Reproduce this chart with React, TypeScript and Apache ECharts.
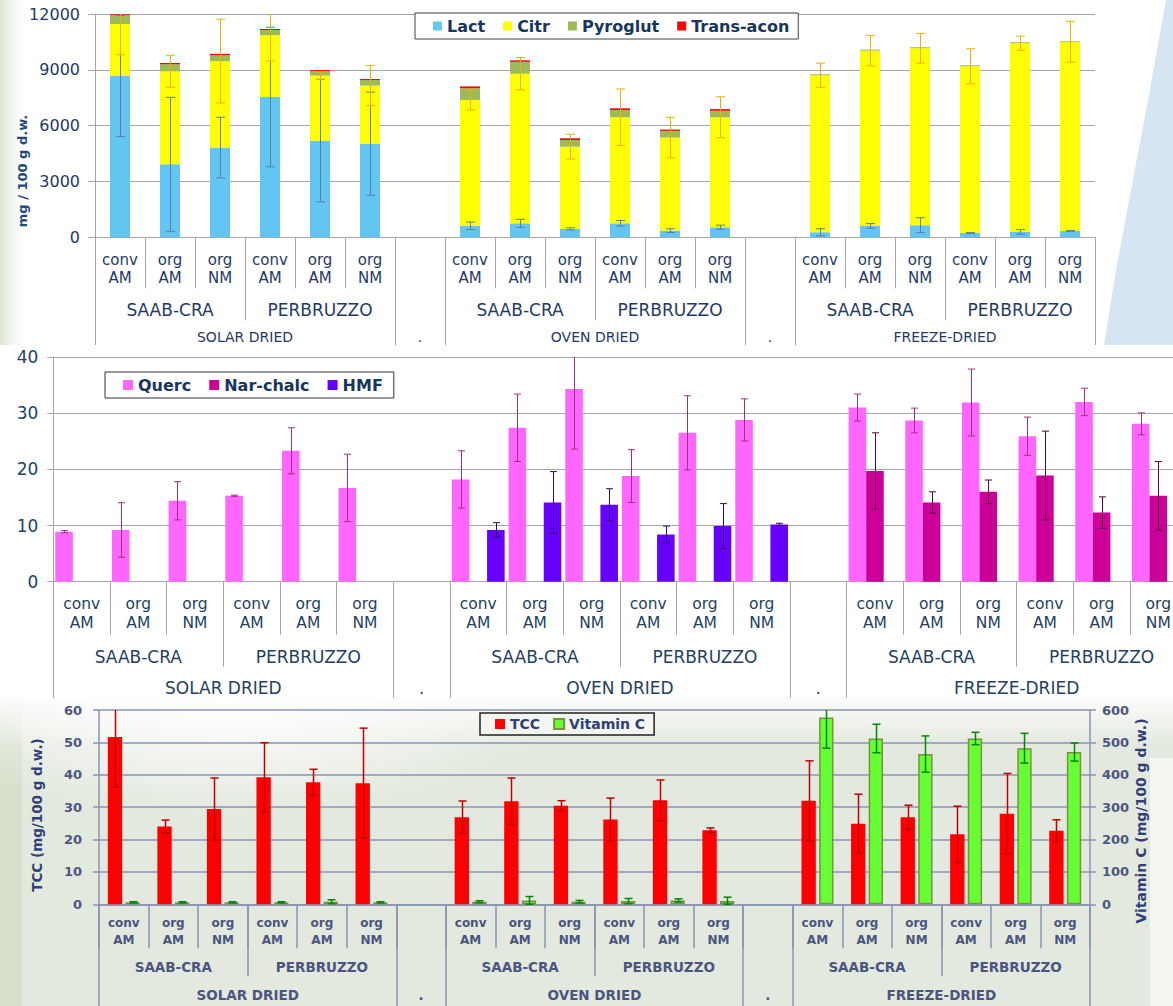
import React, { useEffect, useRef } from "react";
import * as echarts from "echarts";

// ---------- shared categories ----------
const treatments = ["conv\nAM", "org\nAM", "org\nNM", "conv\nAM", "org\nAM", "org\nNM"];
const varieties = ["SAAB-CRA", "PERBRUZZO"];
const methods = ["SOLAR DRIED", "OVEN DRIED", "FREEZE-DRIED"];
const gapLabel = ".";

// ---------- panel 1: organic acids (mg / 100 g d.w.); order: solar x6, oven x6, freeze x6 ----------
const acidAxis = { min: 0, max: 12000, interval: 3000 };
const lact = [8670, 3920, 4820, 7540, 5190, 5030, 620, 750, 450, 750, 360, 540, 270, 610, 650, 230, 290, 340];
const citr = [2790, 5000, 4650, 3320, 3500, 3120, 6760, 8040, 4420, 5700, 5000, 5910, 8440, 9420, 9510, 8960, 10140, 10170];
const pyroglut = [470, 380, 310, 280, 250, 300, 630, 640, 360, 390, 360, 350, 55, 55, 55, 55, 55, 40];
const transAcon = [50, 70, 80, 55, 50, 55, 100, 80, 90, 90, 70, 90, 0, 0, 0, 0, 0, 0];
const lactErr = [3260, 3600, 1630, 3750, 3290, 2770, 200, 215, 60, 150, 100, 110, 190, 125, 400, 30, 125, 20];
const citrErr = [1650, 860, 2250, 1380, 200, 1075, 540, 870, 670, 1520, 1090, 1100, 650, 820, 800, 940, 380, 1100];

// ---------- panel 2: phenolics / HMF ----------
const phenAxis = { min: 0, max: 40, interval: 10 };
const querc = [8.9, 9.2, 14.4, 15.3, 23.3, 16.7, 18.2, 27.4, 34.3, 18.8, 26.5, 28.8, 31.0, 28.7, 31.9, 25.9, 32.0, 28.1];
const quercErr = [0.2, 4.85, 3.4, 0.1, 4.1, 6.0, 5.1, 6.0, 10.7, 4.7, 6.6, 3.75, 2.4, 2.2, 5.95, 3.4, 2.45, 1.95];
const narChalc = [null, null, null, null, null, null, null, null, null, null, null, null, 19.7, 14.1, 16.0, 18.9, 12.3, 15.3];
const narChalcErr = [null, null, null, null, null, null, null, null, null, null, null, null, 6.8, 1.9, 2.1, 7.9, 2.8, 6.1];
const hmf = [null, null, null, null, null, null, 9.2, 14.1, 13.7, 8.4, 9.9, 10.2, null, null, null, null, null, null];
const hmfErr = [null, null, null, null, null, null, 1.3, 5.5, 2.85, 1.5, 4.0, 0.2, null, null, null, null, null, null];

// ---------- panel 3: TCC (left axis) and vitamin C (right axis) ----------
const tccAxis = { min: 0, max: 60, interval: 10 };
const vitCAxis = { min: 0, max: 600, interval: 100 };
const tcc = [51.7, 24.0, 29.4, 39.2, 37.7, 37.4, 26.9, 31.8, 30.4, 26.2, 32.1, 22.9, 32.0, 24.9, 26.9, 21.6, 28.0, 22.7];
const tccErr = [15.5, 2.0, 9.6, 10.7, 4.0, 17.0, 5.0, 7.2, 1.6, 6.6, 6.3, 0.7, 12.3, 9.1, 3.7, 8.7, 12.4, 3.4];
const vitC = [6, 6, 6, 6, 8, 6, 8, 12, 8, 10, 12, 10, 577, 512, 464, 512, 482, 470];
const vitCErr = [2, 2, 2, 2, 6, 2, 3, 12, 4, 8, 5, 12, 95, 44, 56, 19, 46, 28];

const FONT = "DejaVu Sans";

const level1 = [...treatments, "", ...treatments, "", ...treatments];
const slotOf = (i: number) => i + Math.floor(i / 6);
const toSlots = (arr: (number | null)[]) => {
  const out: (number | string)[] = [];
  arr.forEach((v, i) => {
    if (i > 0 && i % 6 === 0) out.push("-");
    out.push(v == null ? "-" : v);
  });
  return out;
};

function barOffset(w: number, n: number, k: number, catGap: number, gap: number) {
  const bw = (w * (1 - catGap)) / (n + (n - 1) * gap);
  const total = n * bw + (n - 1) * gap * bw;
  return -total / 2 + k * bw * (1 + gap) + bw / 2;
}

type ErrOpts = { color: string; width: number; cap: number; max: number; offset: (w: number) => number; yAxisIndex?: number };
function errSeries(name: string, centers: (number | null)[], errs: (number | null)[], o: ErrOpts) {
  const data: number[][] = [];
  centers.forEach((c, i) => {
    const e = errs[i];
    if (c != null && e != null) data.push([slotOf(i), c, e]);
  });
  return {
    type: "custom",
    name,
    xAxisIndex: 0,
    yAxisIndex: o.yAxisIndex ?? 0,
    z: 10,
    silent: true,
    encode: { x: 0, y: 1 },
    data,
    renderItem: (_p: any, api: any) => {
      const x = api.value(0);
      const c = api.value(1);
      const e = api.value(2);
      const w = api.size([1, 0])[0];
      const px = Math.round(api.coord([x, c])[0] + o.offset(w)) + 0.5;
      const hiV = Math.min(c + e, o.max);
      const loV = Math.max(c - e, 0);
      const yHi = api.coord([x, hiV])[1];
      const yLo = api.coord([x, loV])[1];
      const st = { stroke: o.color, lineWidth: o.width };
      const h = o.cap / 2;
      const children: any[] = [{ type: "line", shape: { x1: px, y1: yHi, x2: px, y2: yLo }, style: st }];
      if (c + e <= o.max) children.push({ type: "line", shape: { x1: px - h, y1: yHi, x2: px + h, y2: yHi }, style: st });
      children.push({ type: "line", shape: { x1: px - h, y1: yLo, x2: px + h, y2: yLo }, style: st });
      return { type: "group", children };
    },
  };
}

type AxisCfg = {
  line: string; lineWidth: number; len: number[]; margin: number[]; size: number[]; lh: number[];
  color: string; weight: string;
};
function levelAxes(c: AxisCfg) {
  const pts = 41;
  const ids = Array.from({ length: pts }, (_, k) => "p" + k);
  const l2: string[] = new Array(pts).fill("");
  const l3: string[] = new Array(pts).fill("");
  const t2 = new Set<number>();
  const t3 = new Set<number>([pts - 1]);
  methods.forEach((m, g) => {
    const base = g * 7;
    varieties.forEach((v, j) => {
      l2[2 * (base + j * 3 + 1) + 1] = v;
    });
    t2.add(2 * (base + 3));
    l3[2 * (base + 3)] = m;
    t3.add(2 * base);
    if (g < methods.length - 1) {
      l3[2 * (base + 6) + 1] = gapLabel;
      t3.add(2 * (base + 6));
    }
  });
  const ls = { color: c.line, width: c.lineWidth };
  const txt = { color: c.color, fontFamily: FONT, fontWeight: c.weight };
  return [
    {
      type: "category", data: level1, boundaryGap: true, position: "bottom",
      axisLine: { show: true, lineStyle: ls },
      axisTick: { show: true, interval: 0, length: c.len[0], lineStyle: ls },
      axisLabel: { ...txt, interval: 0, margin: c.margin[0], fontSize: c.size[0], lineHeight: c.lh[0] },
      splitLine: { show: false },
    },
    {
      type: "category", data: ids, boundaryGap: false, position: "bottom",
      axisLine: { show: false },
      axisTick: { show: true, interval: (i: number) => t2.has(i), length: c.len[1], lineStyle: ls },
      axisLabel: {
        ...txt, interval: (i: number) => l2[i] !== "", formatter: (_v: string, i: number) => l2[i],
        margin: c.margin[1], fontSize: c.size[1], lineHeight: c.lh[1],
      },
      splitLine: { show: false },
    },
    {
      type: "category", data: ids, boundaryGap: false, position: "bottom",
      axisLine: { show: false },
      axisTick: { show: true, interval: (i: number) => t3.has(i), length: c.len[2], lineStyle: ls },
      axisLabel: {
        ...txt, interval: (i: number) => l3[i] !== "", formatter: (_v: string, i: number) => l3[i],
        margin: c.margin[2], fontSize: c.size[2], lineHeight: c.lh[2],
      },
      splitLine: { show: false },
    },
  ];
}

const plainNum = (v: number) => String(v);

// ---------- options ----------
function topOption() {
  const citrTop = lact.map((v, i) => v + citr[i]);
  const gray = "#A6A6A6";
  return {
    animation: false,
    backgroundColor: "#ffffff",
    textStyle: { fontFamily: FONT },
    grid: { left: 95, top: 14, width: 1000, height: 223.3, outerBoundsMode: "none", containLabel: false },
    legend: {
      left: 415, top: 13, icon: "rect", itemWidth: 9, itemHeight: 9, itemGap: 18,
      padding: [5, 9, 5, 18], borderColor: "#404040", borderWidth: 1, backgroundColor: "#ffffff",
      selectedMode: false,
      data: ["Lact", "Citr", "Pyroglut", "Trans-acon"],
      textStyle: { fontFamily: FONT, fontWeight: "bold", fontSize: 16, color: "#17365D" },
    },
    xAxis: levelAxes({
      line: gray, lineWidth: 1, len: [51, 83, 130], margin: [14, 63, 93], size: [15, 17, 14], lh: [18, 20, 14],
      color: "#1F3A64", weight: "normal",
    }),
    yAxis: {
      type: "value", ...acidAxis,
      axisLine: { show: true, lineStyle: { color: gray } },
      axisTick: { show: true, length: 7, lineStyle: { color: gray } },
      axisLabel: { fontFamily: FONT, fontSize: 16, color: "#1F3A64", margin: 15, formatter: plainNum },
      splitLine: { lineStyle: { color: gray } },
    },
    graphic: [
      {
        type: "rect", z: -10, silent: true, shape: { x: 0, y: 0, width: 30, height: 345 },
        style: { fill: new echarts.graphic.LinearGradient(0, 0, 1, 0, [
          { offset: 0, color: "#D9E6CE" }, { offset: 1, color: "rgba(255,255,255,0)" }]) },
      },
      {
        type: "polygon", z: -10, silent: true,
        shape: { points: [[1166, 0], [1173, 0], [1173, 345], [1104, 345], [1116, 270], [1131, 190], [1148, 100]] },
        style: { fill: "#D5E5F1" },
      },
      {
        type: "text", x: 22, y: 171, rotation: Math.PI / 2, silent: true,
        style: { text: "mg / 100 g d.w.", fontFamily: FONT, fontWeight: "bold", fontSize: 13, fill: "#1F497D", align: "center", verticalAlign: "middle" },
      },
    ],
    series: [
      { type: "bar", name: "Lact", stack: "acids", barWidth: "40%", data: toSlots(lact), itemStyle: { color: "#62C5F2" } },
      { type: "bar", name: "Citr", stack: "acids", barWidth: "40%", data: toSlots(citr), itemStyle: { color: "#FFFF00" } },
      { type: "bar", name: "Pyroglut", stack: "acids", barWidth: "40%", data: toSlots(pyroglut), itemStyle: { color: "#9BBB59" } },
      { type: "bar", name: "Trans-acon", stack: "acids", barWidth: "40%", data: toSlots(transAcon), itemStyle: { color: "#FF0000" } },
      errSeries("Lact error", lact, lactErr, { color: "#5B7FA6", width: 1, cap: 9, max: acidAxis.max, offset: () => 0 }),
      errSeries("Citr error", citrTop, citrErr, { color: "#F0B000", width: 1, cap: 9, max: acidAxis.max, offset: () => 0 }),
    ],
  };
}

function midOption() {
  const gray = "#A6A6A6";
  const cg = 0.07;
  const bar = { type: "bar", barGap: "0%", barCategoryGap: "7%" };
  return {
    animation: false,
    backgroundColor: "#ffffff",
    textStyle: { fontFamily: FONT },
    grid: { left: 53.3, top: 12, width: 1133.3, height: 224.7, outerBoundsMode: "none", containLabel: false },
    legend: {
      left: 105, top: 27, icon: "rect", itemWidth: 10, itemHeight: 10, itemGap: 18,
      padding: [5, 11, 5, 18], borderColor: "#303030", borderWidth: 1, backgroundColor: "#ffffff",
      selectedMode: false,
      data: ["Querc", "Nar-chalc", "HMF"],
      textStyle: { fontFamily: FONT, fontWeight: "bold", fontSize: 16, color: "#17365D" },
    },
    xAxis: levelAxes({
      line: gray, lineWidth: 1, len: [53, 85, 130], margin: [13, 65, 96.5], size: [15.5, 17, 17], lh: [19, 20, 20],
      color: "#243F60", weight: "normal",
    }),
    yAxis: {
      type: "value", ...phenAxis,
      axisLine: { show: true, lineStyle: { color: gray } },
      axisTick: { show: true, length: 6, lineStyle: { color: gray } },
      axisLabel: { fontFamily: FONT, fontSize: 17, color: "#243F60", margin: 15, formatter: plainNum },
      splitLine: { lineStyle: { color: gray } },
    },
    series: [
      { ...bar, name: "Querc", data: toSlots(querc), itemStyle: { color: "#FF66FF" } },
      { ...bar, name: "Nar-chalc", data: toSlots(narChalc), itemStyle: { color: "#CC0099" } },
      { ...bar, name: "HMF", data: toSlots(hmf), itemStyle: { color: "#6600FF" } },
      errSeries("Querc error", querc, quercErr, { color: "#A0307F", width: 1, cap: 7, max: phenAxis.max, offset: (w) => barOffset(w, 3, 0, cg, 0) }),
      errSeries("Nar-chalc error", narChalc, narChalcErr, { color: "#5E0040", width: 1, cap: 7, max: phenAxis.max, offset: (w) => barOffset(w, 3, 1, cg, 0) }),
      errSeries("HMF error", hmf, hmfErr, { color: "#2A0A66", width: 1, cap: 7, max: phenAxis.max, offset: (w) => barOffset(w, 3, 2, cg, 0) }),
    ],
  };
}

function botOption() {
  const blue = "#8A93B5";
  const cg = 0.355;
  const gp = 0.23;
  const bar = { type: "bar", barGap: "23%", barCategoryGap: "35.5%" };
  const tickTxt = { fontFamily: FONT, fontSize: 13, fontWeight: "bold", color: "#4B5682" };
  return {
    animation: false,
    backgroundColor: "#E3E9DE",
    textStyle: { fontFamily: FONT },
    grid: { left: 99, top: 12, width: 991, height: 194.3, outerBoundsMode: "none", containLabel: false },
    legend: {
      left: 480, top: 15, icon: "rect", itemWidth: 10, itemHeight: 10, itemGap: 13,
      padding: [4, 9, 4, 15], borderColor: "#222222", borderWidth: 1.5, backgroundColor: "#F3F5F0",
      selectedMode: false,
      data: ["TCC", "Vitamin C"],
      textStyle: { fontFamily: FONT, fontWeight: "bold", fontSize: 14, color: "#2E3F7A" },
    },
    xAxis: levelAxes({
      line: blue, lineWidth: 1.5, len: [44, 72, 120], margin: [10, 54.5, 83], size: [12, 13.5, 13.5], lh: [17.4, 16, 16],
      color: "#4A5580", weight: "bold",
    }),
    yAxis: [
      {
        type: "value", position: "left", ...tccAxis,
        axisLine: { show: true, lineStyle: { color: blue, width: 1.5 } },
        axisTick: { show: true, length: 6, lineStyle: { color: blue, width: 1.5 } },
        axisLabel: { ...tickTxt, margin: 17, formatter: plainNum },
        splitLine: { lineStyle: { color: blue, width: 1.5 } },
      },
      {
        type: "value", position: "right", ...vitCAxis,
        axisLine: { show: true, lineStyle: { color: blue, width: 1.5 } },
        axisTick: { show: true, length: 6, lineStyle: { color: blue, width: 1.5 } },
        axisLabel: { ...tickTxt, margin: 12, formatter: plainNum },
        splitLine: { show: false },
      },
    ],
    graphic: [
      {
        type: "rect", z: -10, silent: true, shape: { x: 0, y: 0, width: 22, height: 308 },
        style: { fill: "#D6E0CC" },
      },
      {
        type: "ellipse", z: -9, silent: true, shape: { cx: 230, cy: 10, rx: 330, ry: 110 },
        style: { fill: new echarts.graphic.RadialGradient(0.5, 0.5, 0.5, [
          { offset: 0, color: "rgba(255,255,255,0.95)" }, { offset: 1, color: "rgba(255,255,255,0)" }]) },
      },
      {
        type: "rect", z: -9, silent: true, shape: { x: 0, y: 0, width: 1173, height: 50 },
        style: { fill: new echarts.graphic.LinearGradient(0, 0, 0, 1, [
          { offset: 0, color: "rgba(255,255,255,0.85)" }, { offset: 1, color: "rgba(255,255,255,0)" }]) },
      },
      {
        type: "rect", z: -9, silent: true, shape: { x: 1150, y: 60, width: 23, height: 248 },
        style: { fill: "rgba(255,255,255,0.55)" },
      },
      {
        type: "text", x: 37, y: 117, rotation: Math.PI / 2, silent: true,
        style: { text: "TCC (mg/100 g d.w.)", fontFamily: FONT, fontWeight: "bold", fontSize: 13.5, fill: "#2E3F7A", align: "center", verticalAlign: "middle" },
      },
      {
        type: "text", x: 1141, y: 123, rotation: Math.PI / 2, silent: true,
        style: { text: "Vitamin C (mg/100 g d.w.)", fontFamily: FONT, fontWeight: "bold", fontSize: 14, fill: "#2E3F7A", align: "center", verticalAlign: "middle" },
      },
    ],
    series: [
      { ...bar, name: "TCC", yAxisIndex: 0, data: toSlots(tcc), itemStyle: { color: "#FF0000" } },
      { ...bar, name: "Vitamin C", yAxisIndex: 1, data: toSlots(vitC), itemStyle: { color: "#66FF33", borderColor: "#77933C", borderWidth: 1.5 } },
      errSeries("TCC error", tcc, tccErr, { color: "#C00000", width: 1.5, cap: 8, max: tccAxis.max, offset: (w) => barOffset(w, 2, 0, cg, gp) }),
      errSeries("Vitamin C error", vitC, vitCErr, { color: "#008A00", width: 1.5, cap: 8, max: vitCAxis.max, yAxisIndex: 1, offset: (w) => barOffset(w, 2, 1, cg, gp) }),
    ],
  };
}

function Panel({ top, height, build }: { top: number; height: number; build: () => any }) {
  const ref = useRef<HTMLDivElement>(null);
  useEffect(() => {
    if (!ref.current) return;
    const chart = echarts.init(ref.current, null, { renderer: "svg" });
    chart.setOption(build());
    return () => chart.dispose();
  }, []);
  return <div ref={ref} style={{ position: "absolute", left: 0, top, width: 1173, height, overflow: "hidden" }} />;
}

export default function App() {
  return (
    <div style={{ position: "absolute", left: 0, top: 0, width: 1173, height: 1006, overflow: "hidden", background: "#ffffff" }}>
      <Panel top={0} height={345} build={topOption} />
      <Panel top={345} height={353} build={midOption} />
      <Panel top={698} height={308} build={botOption} />
    </div>
  );
}
